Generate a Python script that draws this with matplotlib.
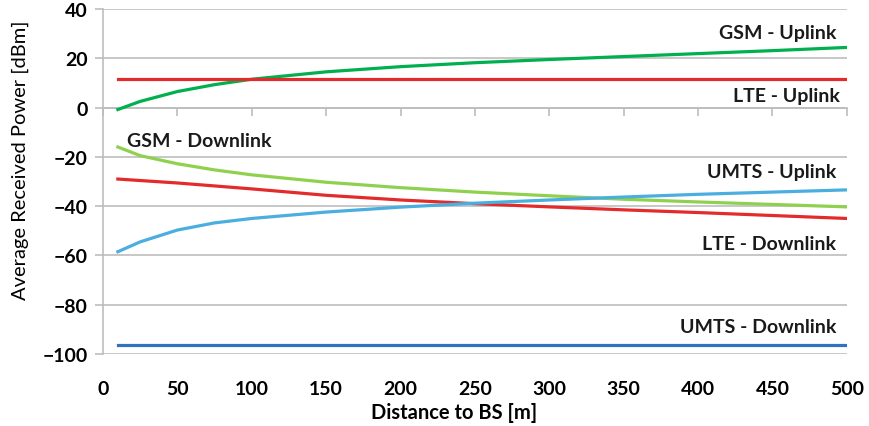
import matplotlib
matplotlib.use('Agg')
import matplotlib.pyplot as plt

# ── data ─────────────────────────────────────────────────────────────────────
dist = [10, 25, 50, 75, 100, 150, 200, 250, 300, 350, 400, 450, 500]

gsm_ul  = [-0.8, 2.5, 6.5, 9.3, 11.5, 14.5, 16.6, 18.2, 19.5, 20.7, 21.9, 23.1, 24.4]
lte_ul  = [11.5] * len(dist)
gsm_dl  = [-16.0, -19.5, -22.8, -25.3, -27.3, -30.3, -32.5, -34.3, -35.8, -37.2, -38.3, -39.3, -40.3]
lte_dl  = [-29.0, -29.6, -30.6, -31.8, -33.0, -35.6, -37.5, -39.0, -40.3, -41.5, -42.6, -43.8, -45.0]
umts_ul = [-58.5, -54.5, -49.7, -46.8, -45.0, -42.4, -40.4, -38.8, -37.5, -36.3, -35.2, -34.3, -33.4]
umts_dl = [-96.4] * len(dist)

x_ticks = list(range(0, 501, 50))
y_ticks = list(range(-100, 41, 20))

# (text, x, y, ha)
labels = [
    ('GSM - Uplink',    493, 30.5, 'right'),
    ('LTE - Uplink',    495, 4.8,  'right'),
    ('GSM - Downlink',  16,  -13.5, 'left'),
    ('UMTS - Uplink',   493, -25.8, 'right'),
    ('LTE - Downlink',  493, -55.0, 'right'),
    ('UMTS - Downlink', 493, -88.8, 'right'),
]

plt.rcParams['font.family'] = ['Lato', 'DejaVu Sans']

fig = plt.figure(figsize=(8.69, 4.27), dpi=100)
ax = fig.add_axes([0.1185, 0.1686, 0.856, 0.808])

grid_c = '#bdbdbd'
ax.plot(dist, gsm_ul,  color='#00b04f', lw=2.3, zorder=3)
ax.plot(dist, lte_ul,  color='#e42b2b', lw=2.3, zorder=3)
ax.plot(dist, gsm_dl,  color='#8fd14f', lw=2.3, zorder=3)
ax.plot(dist, lte_dl,  color='#e42b2b', lw=2.3, zorder=3)
ax.plot(dist, umts_ul, color='#4aaedf', lw=2.3, zorder=3)
ax.plot(dist, umts_dl, color='#2f72bd', lw=2.3, zorder=3)

for txt, x, y, ha in labels:
    ax.text(x, y, txt, ha=ha, va='center', fontsize=14, fontweight='bold',
            color='#1a1a1a')

ax.set_xlim(0, 500)
ax.set_ylim(-100, 40)
ax.set_yticks(y_ticks)
ax.set_xticks(x_ticks)
ax.yaxis.grid(True, color=grid_c, lw=1.2, zorder=0)
ax.set_axisbelow(True)

for s in ['top', 'right']:
    ax.spines[s].set_visible(False)
ax.spines['left'].set_color(grid_c)
ax.spines['left'].set_linewidth(1.2)
ax.spines['bottom'].set_position(('data', 0))
ax.spines['bottom'].set_color(grid_c)
ax.spines['bottom'].set_linewidth(1.2)

ax.tick_params(axis='x', which='both', direction='out', length=6, width=1.2,
               color=grid_c, labelbottom=False)
ax.tick_params(axis='y', direction='out', length=6, width=1.2, color=grid_c,
               labelsize=14, pad=5)
for t in ax.get_yticklabels():
    t.set_fontweight('bold')

# tick labels sit at the bottom while the axis line crosses at y = 0
sec = ax.secondary_xaxis('bottom')
sec.set_xticks(x_ticks)
sec.spines['bottom'].set_visible(False)
sec.tick_params(length=0, labelsize=14, pad=19)
for t in sec.get_xticklabels():
    t.set_fontweight('bold')

ax.set_xlabel('Distance to BS [m]', fontsize=14.5, fontweight='bold')
ax.xaxis.set_label_coords(0.472, -0.14)

ax.set_ylabel('Average Received Power [dBm]', fontsize=14.5)
ax.yaxis.set_label_coords(-0.099, 0.565)

fig.savefig('out.png', dpi=100)
